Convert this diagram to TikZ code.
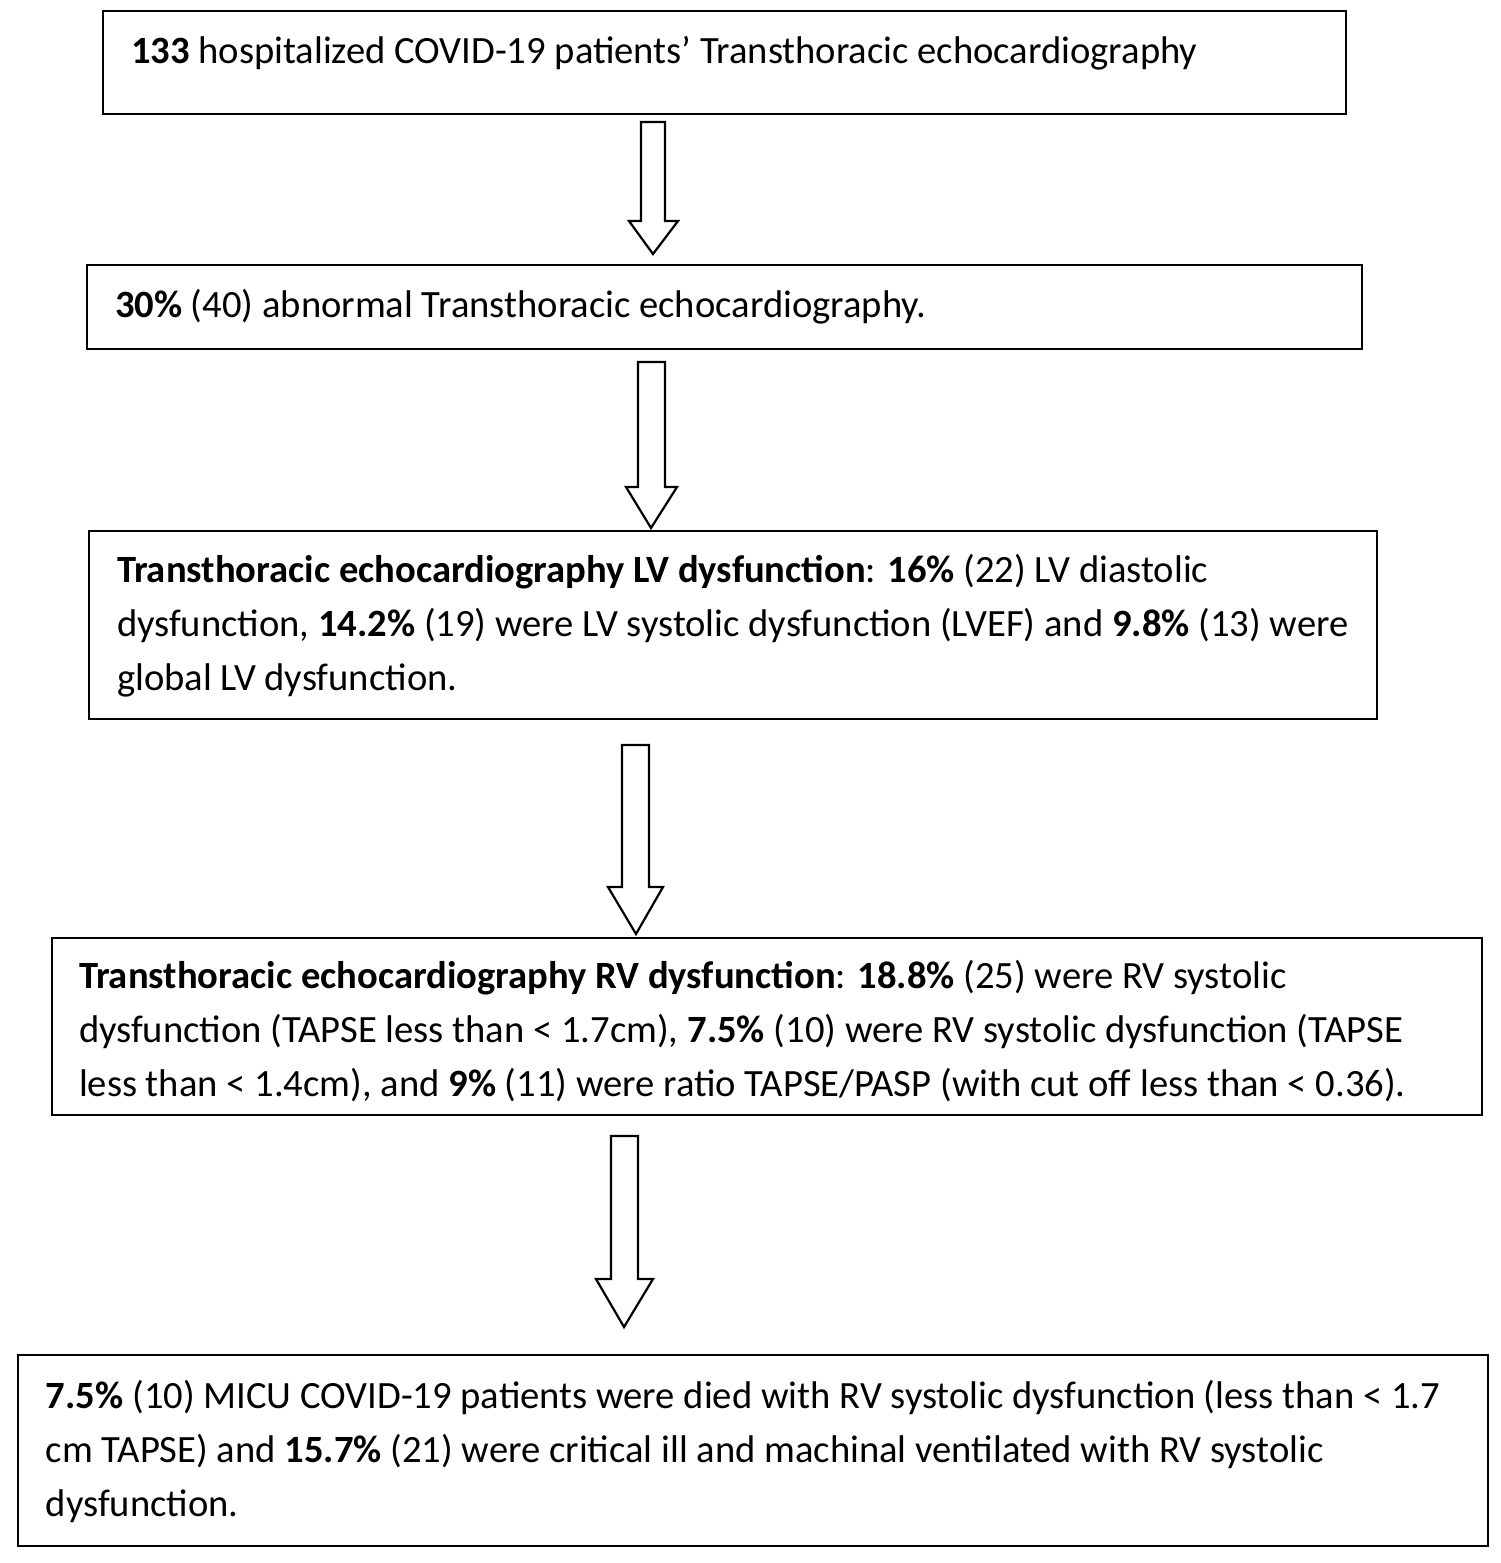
\documentclass[tikz,border=0pt]{standalone}
\usepackage{fontspec}
\setmainfont{Carlito}
\begin{document}
\begin{tikzpicture}[x=0.5pt,y=-0.5pt,
  box/.style={draw=black, line width=1.4pt, fill=none, rectangle, inner sep=0pt, outer sep=0pt, anchor=north west},
  line/.style={anchor=base west, inner sep=0pt, outer sep=0pt, font=\fontsize{19.3}{26}\selectfont},
  blockarrow/.style={draw=black, line width=1.1pt, fill=white, line join=miter}]
\useasboundingbox (0,0) rectangle (1500,1563);
% boxes
\node[box, minimum width=621.5pt, minimum height=51.5pt] (b1) at (103,11) {};
\node[box, minimum width=637.5pt, minimum height=42pt] (b2) at (87,265) {};
\node[box, minimum width=644pt, minimum height=94pt] (b3) at (89,531) {};
\node[box, minimum width=715pt, minimum height=88.5pt] (b4) at (52,938) {};
\node[box, minimum width=735pt, minimum height=95.5pt] (b5) at (18,1355) {};
% texts
\node[line] (t1a) at (131,63) {\textbf{133} hospitalized COVID-19 patients’ Transthoracic echocardiography};
\node[line] (t2a) at (115,317) {\textbf{30\%} (40) abnormal Transthoracic echocardiography.};
\node[line] (t3a) at (117,582) {\textbf{Transthoracic echocardiography LV dysfunction}: \textbf{16\%} (22) LV diastolic};
\node[line] (t3b) at (117,636) {dysfunction, \textbf{14.2\%} (19) were LV systolic dysfunction (LVEF) and \textbf{9.8\%} (13) were};
\node[line] (t3c) at (117,690) {global LV dysfunction.};
\node[line] (t4a) at (79,988) {\textbf{Transthoracic echocardiography RV dysfunction}: \textbf{18.8\%} (25) were RV systolic};
\node[line] (t4b) at (79,1042) {dysfunction (TAPSE less than < 1.7cm), \textbf{7.5\%} (10) were RV systolic dysfunction (TAPSE};
\node[line] (t4c) at (79,1096) {less than < 1.4cm), and \textbf{9\%} (11) were ratio TAPSE/PASP (with cut off less than < 0.36).};
\node[line] (t5a) at (46,1408) {\textbf{7.5\%} (10) MICU COVID-19 patients were died with RV systolic dysfunction (less than < 1.7};
\node[line] (t5b) at (46,1462) {cm TAPSE) and \textbf{15.7\%} (21) were critical ill and machinal ventilated with RV systolic};
\node[line] (t5c) at (46,1516) {dysfunction.};
% block arrows
\draw[blockarrow] (641,122) -- (665,122) -- (665,221) -- (678,221) -- (653,254) -- (629,221) -- (641,221) -- cycle;
\draw[blockarrow] (638,362) -- (665,362) -- (665,487) -- (677,487) -- (651,528) -- (626,487) -- (638,487) -- cycle;
\draw[blockarrow] (622,745) -- (649,745) -- (649,887) -- (663,887) -- (636,934) -- (608,887) -- (622,887) -- cycle;
\draw[blockarrow] (611,1136) -- (638,1136) -- (638,1279) -- (653,1279) -- (624,1327) -- (596,1279) -- (611,1279) -- cycle;
\end{tikzpicture}
\end{document}
